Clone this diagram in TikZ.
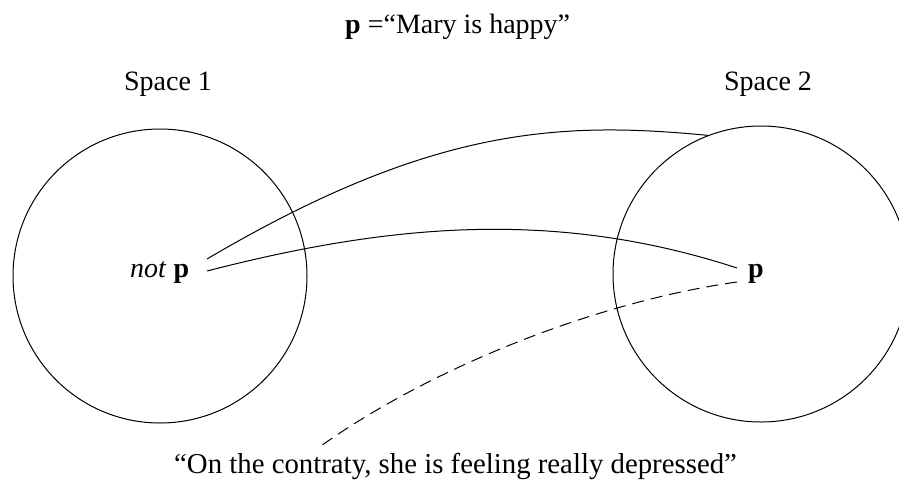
\documentclass[tikz,border=0pt]{standalone}
\usepackage{fontspec}
\setmainfont{Liberation Serif}
\begin{document}
\begin{tikzpicture}[x=1pt,y=-1pt,
  space/.style={circle,draw,line width=1pt,inner sep=0pt},
  lbl/.style={inner sep=0pt,font=\fontsize{28}{34}\selectfont},
  link/.style={line width=1pt},
  dlink/.style={line width=1pt,dash pattern=on 12pt off 7pt}]
\useasboundingbox (0,0) rectangle (899,482);
\node[space,minimum size=294pt] (s1) at (160,276) {};
\node[space,minimum size=296pt] (s2) at (761,274) {};
\node[lbl,anchor=base west] (title) at (345,33) {\textbf{p} =“Mary is happy”};
\node[lbl,anchor=base] (l1) at (168,90) {Space 1};
\node[lbl,anchor=base] (l2) at (768,90) {Space 2};
\node[lbl,anchor=base west] (np) at (130,277) {\textit{not} \textbf{p}};
\node[lbl,anchor=base west] (p) at (748,277) {\textbf{p}};
\node[lbl,anchor=base west,font=\fontsize{28.8}{34}\selectfont] (q) at (174,473) {“On the contraty, she is feeling really depressed”};
\coordinate (a1) at (207,259);
\coordinate (a2) at (207,271);
\coordinate (b2) at (737,268);
\coordinate (c1) at (737,282);
\coordinate (c2) at (318,448);
\draw[link] (a1) .. controls (431,127) and (559,121) .. (s2.111);
\draw[link] (a2) .. controls (391,223.5) and (556.5,209) .. (b2);
\draw[dlink] (c1) .. controls (608,300) and (440,361) .. (c2);
\end{tikzpicture}
\end{document}
